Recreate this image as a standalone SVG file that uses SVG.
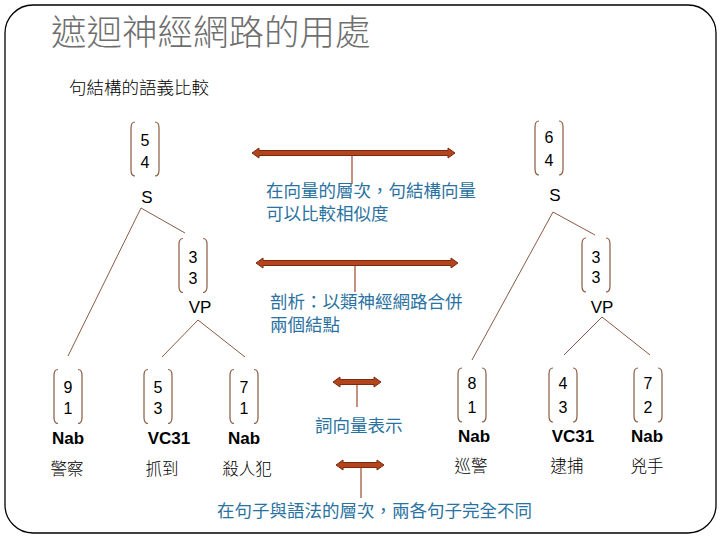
<svg xmlns="http://www.w3.org/2000/svg" width="720" height="540" viewBox="0 0 720 540">
<style>
.frame{fill:#fff;stroke:#000;stroke-width:1.3}
.title{font-family:"Noto Sans CJK TC","Noto Sans CJK SC",sans-serif;font-size:35.5px;font-weight:300;fill:#6e6e6e}
.sub{font-family:"Noto Sans CJK TC",sans-serif;font-size:17.5px;font-weight:300;fill:#000}
.num{font-family:"Liberation Sans",Arial,sans-serif;font-size:16px;fill:#000;text-anchor:middle}
.pos{font-family:"Liberation Sans",Arial,sans-serif;font-size:17px;font-weight:bold;fill:#000;text-anchor:middle}
.cat{font-family:"Liberation Sans",Arial,sans-serif;font-size:17px;fill:#000;text-anchor:middle}
.word{font-family:"Noto Sans CJK TC",sans-serif;font-size:16.5px;font-weight:300;fill:#000;text-anchor:middle}
.lbl{font-family:"Noto Sans CJK TC",sans-serif;font-size:17.5px;fill:#2a72a0}
.br{fill:none;stroke:#8a5a40;stroke-width:1.2}
.tree{stroke:#8b5a44;stroke-width:1;fill:none}
.arr{fill:#b3441c;stroke:#7a2a10;stroke-width:1}
.lead{stroke:#9b4a2a;stroke-width:1.2}
</style>
<defs>
<path id="brk" class="br" d="M-10,-27 Q-14,-27 -14,-21 L-14,21 Q-14,27 -10,27 M10,-27 Q14,-27 14,-21 L14,21 Q14,27 10,27"/>
</defs>
<rect class="frame" x="5" y="5" width="711" height="528" rx="28" ry="28"/>
<text class="title" x="51" y="45">遮迴神經網路的用處</text>
<text class="sub" x="69" y="94">句結構的語義比較</text>

<g id="connectors">
<line class="tree" x1="141" y1="208" x2="68" y2="356"/>
<line class="tree" x1="141" y1="208" x2="185" y2="233"/>
<line class="tree" x1="198" y1="320" x2="162" y2="357"/>
<line class="tree" x1="198" y1="320" x2="245" y2="357"/>
<line class="tree" x1="553" y1="212" x2="472" y2="360"/>
<line class="tree" x1="553" y1="212" x2="595" y2="235"/>
<line class="tree" x1="602" y1="317" x2="564" y2="355"/>
<line class="tree" x1="602" y1="317" x2="650" y2="355"/>
<polygon class="arr" points="252,153 259,148 259,150.5 448,150.5 448,148 455,153 448,158 448,155.5 259,155.5 259,158"/>
<polygon class="arr" points="256,263 263,258 263,260.5 451,260.5 451,258 458,263 451,268 451,265.5 263,265.5 263,268"/>
<polygon class="arr" points="333,382 340,377 340,379.5 374,379.5 374,377 381,382 374,387 374,384.5 340,384.5 340,387"/>
<polygon class="arr" points="336,465 343,460 343,462.5 377,462.5 377,460 384,465 377,470 377,467.5 343,467.5 343,470"/>
<line class="lead" x1="352" y1="156" x2="352" y2="184"/>
<line class="lead" x1="355" y1="266" x2="355" y2="292"/>
<line class="lead" x1="357" y1="385" x2="357" y2="407"/>
<line class="lead" x1="361" y1="468" x2="361" y2="498"/>
</g>

<g id="label-sentvec">
<text class="lbl"><tspan x="266" y="197">在向量的層次，句結構向量</tspan><tspan x="266" y="220">可以比較相似度</tspan></text>
</g>
<g id="label-parse">
<text class="lbl"><tspan x="270" y="308">剖析：以類神經網路合併</tspan><tspan x="270" y="331">兩個結點</tspan></text>
</g>
<g id="label-wordvec">
<text class="lbl" x="315" y="432">詞向量表示</text>
</g>
<g id="label-syntax">
<text class="lbl" x="217" y="517">在句子與語法的層次，兩各句子完全不同</text>
</g>

<g id="node-S-left">
<use href="#brk" transform="translate(145,149)"/>
<text class="num" x="145" y="146">5</text>
<text class="num" x="145" y="168">4</text>
<text class="cat" x="147" y="203">S</text>
</g>
<g id="node-S-right">
<use href="#brk" transform="translate(549,148)"/>
<text class="num" x="549" y="143">6</text>
<text class="num" x="549" y="166">4</text>
<text class="cat" x="555" y="201">S</text>
</g>
<g id="node-VP-left">
<use href="#brk" transform="translate(193,265.5)"/>
<text class="num" x="193" y="263">3</text>
<text class="num" x="193" y="284">3</text>
<text class="cat" x="200" y="313">VP</text>
</g>
<g id="node-VP-right">
<use href="#brk" transform="translate(596,265)"/>
<text class="num" x="596" y="263">3</text>
<text class="num" x="596" y="283">3</text>
<text class="cat" x="602" y="313">VP</text>
</g>
<g id="node-police">
<use href="#brk" transform="translate(68,396.5)"/>
<text class="num" x="68" y="393">9</text>
<text class="num" x="68" y="414">1</text>
<text class="pos" x="68" y="444">Nab</text>
<text class="word" x="67" y="475">警察</text>
</g>
<g id="node-catch">
<use href="#brk" transform="translate(158,396.5)"/>
<text class="num" x="158" y="393">5</text>
<text class="num" x="158" y="414">3</text>
<text class="pos" x="169" y="444">VC31</text>
<text class="word" x="162" y="475">抓到</text>
</g>
<g id="node-murderer">
<use href="#brk" transform="translate(244,396.5)"/>
<text class="num" x="244" y="393">7</text>
<text class="num" x="244" y="414">1</text>
<text class="pos" x="244" y="444">Nab</text>
<text class="word" x="247" y="475">殺人犯</text>
</g>
<g id="node-patrol">
<use href="#brk" transform="translate(472,395)"/>
<text class="num" x="472" y="389">8</text>
<text class="num" x="472" y="413">1</text>
<text class="pos" x="474" y="442">Nab</text>
<text class="word" x="471" y="472">巡警</text>
</g>
<g id="node-arrest">
<use href="#brk" transform="translate(563,395)"/>
<text class="num" x="563" y="389">4</text>
<text class="num" x="563" y="413">3</text>
<text class="pos" x="573" y="442">VC31</text>
<text class="word" x="567" y="472">逮捕</text>
</g>
<g id="node-culprit">
<use href="#brk" transform="translate(648,395)"/>
<text class="num" x="648" y="389">7</text>
<text class="num" x="648" y="413">2</text>
<text class="pos" x="647" y="442">Nab</text>
<text class="word" x="647" y="472">兇手</text>
</g>
</svg>
